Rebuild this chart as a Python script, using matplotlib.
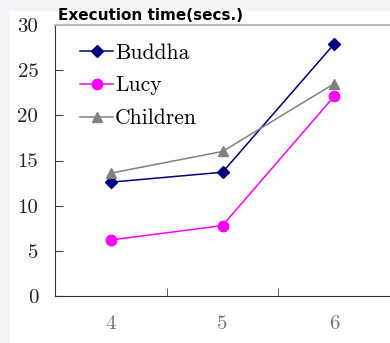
import matplotlib
matplotlib.use("Agg")
import matplotlib.pyplot as plt
from matplotlib.patches import Rectangle

# data
categories = ["4", "5", "6"]
buddha = [12.6, 13.7, 27.9]
lucy = [6.2, 7.8, 22.1]
children = [13.6, 16.0, 23.5]
yticks = [0, 5, 10, 15, 20, 25, 30]

fig = plt.figure(figsize=(3.9, 3.43), dpi=100)
fig.patch.set_facecolor("white")

# light strips at the top and left edge
fig.patches.append(Rectangle((0, 1 - 10 / 343), 1, 10 / 343, transform=fig.transFigure,
                             color="#f3f3f8", zorder=0))
fig.patches.append(Rectangle((0, 0), 8 / 390, 1, transform=fig.transFigure,
                             color="#f3f3f8", zorder=0))

ax = fig.add_axes([55 / 390, 47 / 343, 335 / 390, 271 / 343])
x = range(len(categories))

ax.plot(x, buddha, color="#000080", marker="D", markersize=6, lw=1.1, label="Buddha")
ax.plot(x, lucy, color="#ff00ff", marker="o", markersize=7.5, lw=1.1, label="Lucy")
ax.plot(x, children, color="#808080", marker="^", markersize=7.5, lw=1.1, label="Children")

ax.set_xlim(-0.5, 2.5)
ax.set_ylim(0, 30)

ax.set_xticks(list(x))
ax.set_xticklabels(categories, fontfamily="cmr10", fontsize=15, color="#777777")
ax.set_xticks([0.5, 1.5], minor=True)
ax.tick_params(axis="x", which="major", length=0, pad=14)
ax.tick_params(axis="x", which="minor", direction="in", length=6, color="#444444")

ax.set_yticks(yticks)
ax.set_yticklabels([str(v) for v in yticks], fontfamily="cmr10", fontsize=15, color="#222222")
ax.tick_params(axis="y", direction="in", length=6, pad=12, color="#444444")

ax.spines["left"].set_color("#333333")
ax.spines["bottom"].set_color("#333333")
ax.spines["top"].set_color("#bbbbbb")
ax.spines["top"].set_linewidth(1.5)
ax.spines["right"].set_visible(False)

ax.legend(loc="upper left", bbox_to_anchor=(0.05, 0.965), frameon=False,
          prop={"family": "cmr10", "size": 15.5}, handlelength=1.5,
          handletextpad=0.12, labelspacing=0.62, borderaxespad=0)

fig.text(58 / 390, 1 - 15 / 343, "Execution time(secs.)", fontsize=11,
         fontweight="bold", fontfamily="DejaVu Sans", va="center", ha="left")

fig.savefig("out.png", dpi=100)
